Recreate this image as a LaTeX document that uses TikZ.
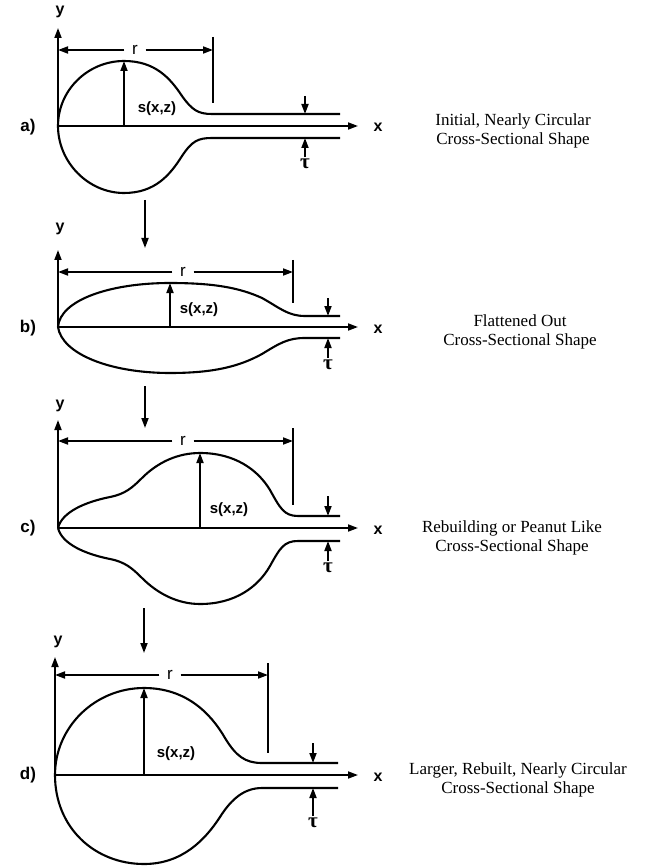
\documentclass[tikz,border=0pt]{standalone}
\usepackage{fontspec}
\setmainfont{Liberation Serif}
\setsansfont{Liberation Sans}
\usetikzlibrary{positioning,arrows.meta,calc}

\begin{document}
\begin{tikzpicture}[
    x=1pt, y=-1pt,
    every node/.style={inner sep=2pt},
    line width=1.8pt,
    >={Triangle[length=10pt,width=7pt]},
    curve/.style={line width=2.1pt},
    lbl/.style={font=\sffamily\bfseries\fontsize{16}{18}\selectfont},
    slbl/.style={font=\sffamily\bfseries\fontsize{15}{17}\selectfont, anchor=west},
    panel/.style={font=\sffamily\bfseries\fontsize{17}{19}\selectfont},
    dim/.style={font=\sffamily\fontsize{17}{19}\selectfont, inner xsep=7pt, inner ysep=1pt},
    tau/.style={font=\bfseries\fontsize{21}{23}\selectfont, inner sep=1pt},
    capt/.style={font=\fontsize{17}{19}\selectfont, align=center}
]
\useasboundingbox (0,0) rectangle (650,866);

% Panel a
\coordinate (O1) at (58,126);
\coordinate (Y1) at (58,28);
\coordinate (X1) at (358,126);
\node[lbl] (y1) at (60,12) {y};
\node[lbl] (x1) at (378,127) {x};
\node[panel] (p1) at (28,127) {a)};
\draw[->] (O1) -- (Y1);
\draw[->] (O1) -- (X1);
\coordinate (RL1) at (58,50);
\coordinate (RR1) at (213,50);
\node[dim] (r1) at (135,50) {r};
\draw[->] (r1) -- (RL1);
\draw[->] (r1) -- (RR1);
\draw ([yshift=13pt]RR1) -- ([yshift=-53pt]RR1);
\draw[curve] (O1) .. controls (58,90) and (88,61) .. (124,61)
    .. controls (155,61) and (170,78) .. (182,96)
    .. controls (192,110) and (198,114) .. (212,114) -- (340,114);
\draw[curve] (O1) .. controls (58,162) and (88,193) .. (124,193)
    .. controls (155,193) and (170,175) .. (182,156)
    .. controls (192,141) and (198,138) .. (212,138) -- (340,138);
\coordinate (B1) at (124,126);
\coordinate (S1) at (124,61);
\draw[->] (B1) -- (S1);
\node[slbl] (s1) at (135,109) {s(x,z)};
\coordinate (TU1) at (305,96);
\coordinate (TT1) at (305,114);
\coordinate (TB1) at (305,138);
\node[tau] (t1) at (305,164) {τ};
\draw[->] (TU1) -- (TT1);
\draw[->] (t1) -- (TB1);
\node[capt] (c1) at (513,131) {Initial, Nearly Circular\\Cross-Sectional Shape};

% Flecha a-b
\coordinate (A1) at (145,200);
\coordinate (A2) at (145,248);
\draw[->] (A1) -- (A2);

% Panel b
\coordinate (O2) at (58,327);
\coordinate (Y2) at (58,250);
\coordinate (X2) at (358,327);
\node[lbl] (y2) at (60,229) {y};
\node[lbl] (x2) at (378,329) {x};
\node[panel] (p2) at (28,328) {b)};
\draw[->] (O2) -- (Y2);
\draw[->] (O2) -- (X2);
\coordinate (RL2) at (58,272);
\coordinate (RR2) at (293,272);
\node[dim] (r2) at (183,272) {r};
\draw[->] (r2) -- (RL2);
\draw[->] (r2) -- (RR2);
\draw ([yshift=12pt]RR2) -- ([yshift=-31pt]RR2);
\draw[curve] (O2) .. controls (60,300) and (110,283) .. (170,283)
    .. controls (215,283) and (240,288) .. (262,298)
    .. controls (280,308) and (288,316) .. (305,316) -- (340,316);
\draw[curve] (O2) .. controls (62,354) and (110,373) .. (170,373)
    .. controls (215,373) and (240,366) .. (262,354)
    .. controls (280,343) and (288,338) .. (305,338) -- (340,338);
\coordinate (B2) at (170,327);
\coordinate (S2) at (170,283);
\draw[->] (B2) -- (S2);
\node[slbl] (s2) at (177,310) {s(x,z)};
\coordinate (TU2) at (328,298);
\coordinate (TT2) at (328,316);
\coordinate (TB2) at (328,338);
\node[tau] (t2) at (328,365) {τ};
\draw[->] (TU2) -- (TT2);
\draw[->] (t2) -- (TB2);
\node[capt] (c2) at (520,332) {Flattened Out\\Cross-Sectional Shape};

% Flecha b-c
\coordinate (A3) at (145,386);
\coordinate (A4) at (145,428);
\draw[->] (A3) -- (A4);

% Panel c
\coordinate (O3) at (58,528);
\coordinate (Y3) at (58,420);
\coordinate (X3) at (358,528);
\node[lbl] (y3) at (60,406) {y};
\node[lbl] (x3) at (378,530) {x};
\node[panel] (p3) at (28,528) {c)};
\draw[->] (O3) -- (Y3);
\draw[->] (O3) -- (X3);
\coordinate (RL3) at (58,441);
\coordinate (RR3) at (293,441);
\node[dim] (r3) at (183,441) {r};
\draw[->] (r3) -- (RL3);
\draw[->] (r3) -- (RR3);
\draw ([yshift=13pt]RR3) -- ([yshift=-64pt]RR3);
\draw[curve] (O3) .. controls (62,512) and (85,502) .. (110,497)
    .. controls (125,494) and (132,488) .. (142,478)
    .. controls (158,462) and (178,453) .. (200,453)
    .. controls (235,453) and (258,470) .. (270,490)
    .. controls (280,508) and (284,516) .. (298,516) -- (340,516);
\draw[curve] (O3) .. controls (62,544) and (85,554) .. (110,559)
    .. controls (125,562) and (132,568) .. (142,578)
    .. controls (158,594) and (178,604) .. (200,604)
    .. controls (235,604) and (258,587) .. (270,566)
    .. controls (280,548) and (284,541) .. (298,541) -- (340,541);
\coordinate (B3) at (200,528);
\coordinate (S3) at (200,453);
\draw[->] (B3) -- (S3);
\node[slbl] (s3) at (207,510) {s(x,z)};
\coordinate (TU3) at (328,496);
\coordinate (TT3) at (328,516);
\coordinate (TB3) at (328,541);
\node[tau] (t3) at (328,568) {τ};
\draw[->] (TU3) -- (TT3);
\draw[->] (t3) -- (TB3);
\node[capt] (c3) at (512,538) {Rebuilding or Peanut Like\\Cross-Sectional Shape};

% Flecha c-d
\coordinate (A5) at (144,608);
\coordinate (A6) at (144,653);
\draw[->] (A5) -- (A6);

% Panel d
\coordinate (O4) at (55,775);
\coordinate (Y4) at (55,657);
\coordinate (X4) at (358,775);
\node[lbl] (y4) at (58,642) {y};
\node[lbl] (x4) at (378,777) {x};
\node[panel] (p4) at (28,775) {d)};
\draw[->] (O4) -- (Y4);
\draw[->] (O4) -- (X4);
\coordinate (RL4) at (55,675);
\coordinate (RR4) at (268,675);
\node[dim] (r4) at (170,675) {r};
\draw[->] (r4) -- (RL4);
\draw[->] (r4) -- (RR4);
\draw ([yshift=12pt]RR4) -- ([yshift=-78pt]RR4);
\draw[curve] (O4) .. controls (55,727) and (95,688) .. (144,688)
    .. controls (185,688) and (210,712) .. (225,738)
    .. controls (236,756) and (245,763) .. (262,763) -- (338,763);
\draw[curve] (O4) .. controls (55,828) and (95,864) .. (144,864)
    .. controls (182,864) and (205,840) .. (220,817)
    .. controls (232,798) and (245,788) .. (262,788) -- (338,788);
\coordinate (B4) at (144,775);
\coordinate (S4) at (144,688);
\draw[->] (B4) -- (S4);
\node[slbl] (s4) at (154,754) {s(x,z)};
\coordinate (TU4) at (313,743);
\coordinate (TT4) at (313,763);
\coordinate (TB4) at (313,788);
\node[tau] (t4) at (313,823) {τ};
\draw[->] (TU4) -- (TT4);
\draw[->] (t4) -- (TB4);
\node[capt] (c4) at (518,780) {Larger, Rebuilt, Nearly Circular\\Cross-Sectional Shape};

\end{tikzpicture}
\end{document}
